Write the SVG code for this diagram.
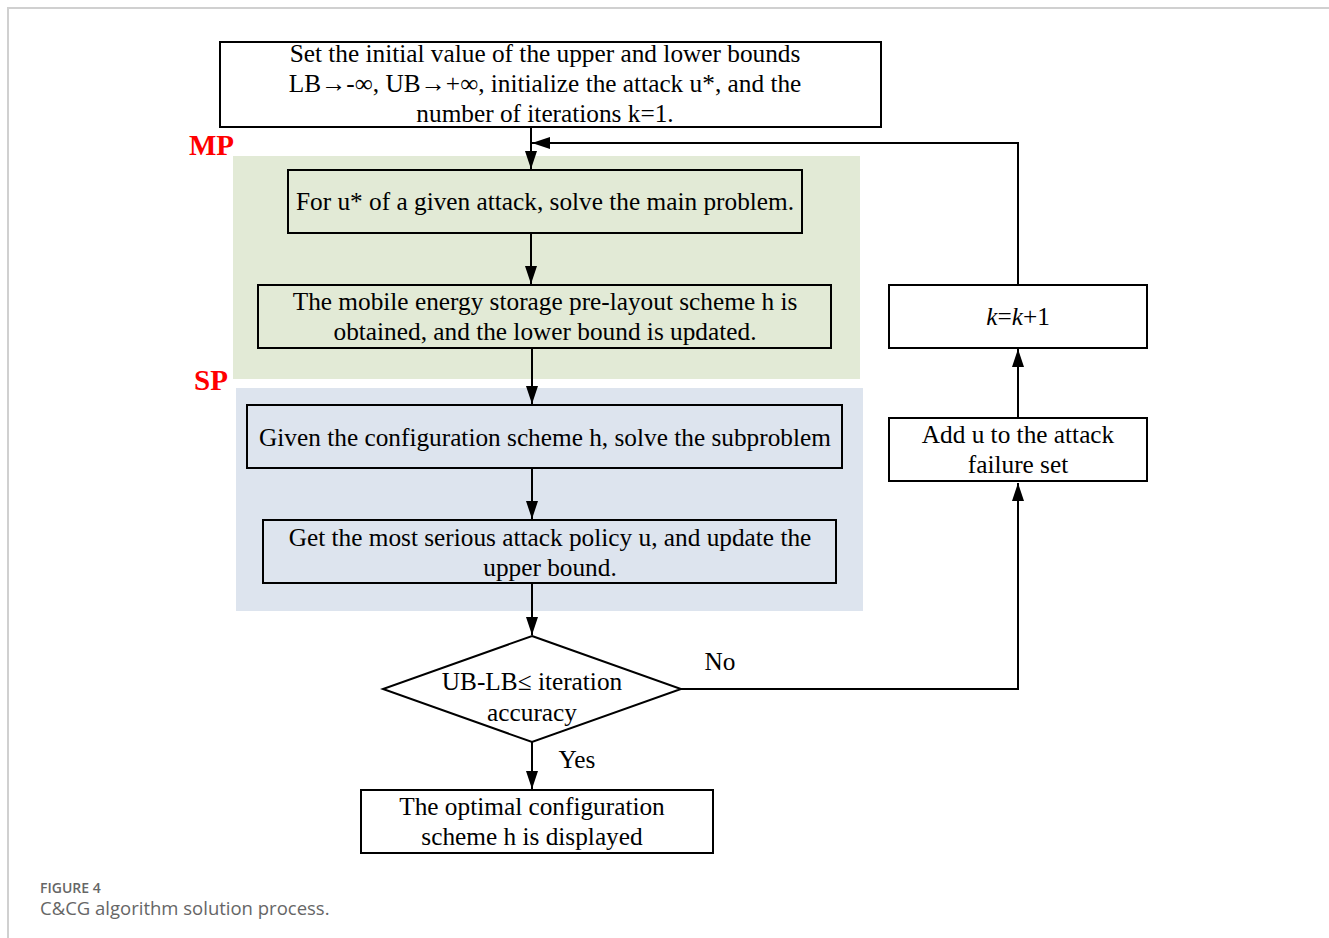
<svg xmlns="http://www.w3.org/2000/svg" width="1329" height="938" viewBox="0 0 1329 938">
<style>
.box{fill:none;stroke:#000;stroke-width:2}
.t{font-family:"Liberation Serif","Times New Roman",serif;font-size:25.3px;fill:#000;text-anchor:middle}
.lbl{font-family:"Liberation Serif","Times New Roman",serif;font-size:29px;font-weight:bold;fill:#ff0000}
.c{fill:none;stroke:#000;stroke-width:2}
.cap1{font-family:"Open Sans","Noto Sans",sans-serif;font-size:14px;font-weight:600;fill:#666}
.cap2{font-family:"Open Sans","Noto Sans",sans-serif;font-size:18.5px;fill:#666}
</style>
<defs>
<marker id="ah" viewBox="0 0 18 12" refX="18" refY="6" markerWidth="18" markerHeight="12" markerUnits="userSpaceOnUse" orient="auto">
<path d="M0,0 L18,6 L0,12 Z" fill="#000"/>
</marker>
</defs>
<rect width="1329" height="938" fill="#fff"/>
<line x1="7" y1="8" x2="1329" y2="8" stroke="#d0d0d0" stroke-width="2"/>
<line x1="8" y1="7" x2="8" y2="938" stroke="#d0d0d0" stroke-width="2"/>

<g id="regions">
<rect x="233" y="156" width="627" height="223" fill="#e2ead6"/>
<rect x="236" y="388" width="627" height="223" fill="#dde4ee"/>
<text class="lbl" x="189" y="155">MP</text>
<text class="lbl" x="194" y="390">SP</text>
</g>

<g id="connectors">
<line class="c" x1="531" y1="127" x2="531" y2="169" marker-end="url(#ah)"/>
<line class="c" x1="531" y1="233" x2="531" y2="284" marker-end="url(#ah)"/>
<line class="c" x1="532" y1="348" x2="532" y2="404" marker-end="url(#ah)"/>
<line class="c" x1="532" y1="468" x2="532" y2="519" marker-end="url(#ah)"/>
<line class="c" x1="532" y1="583" x2="532" y2="635" marker-end="url(#ah)"/>
<line class="c" x1="532" y1="742" x2="532" y2="789" marker-end="url(#ah)"/>
<polyline class="c" points="681,689 1018,689 1018,483" marker-end="url(#ah)"/>
<line class="c" x1="1018" y1="418" x2="1018" y2="349" marker-end="url(#ah)"/>
<polyline class="c" points="1018,285 1018,143 532,143" marker-end="url(#ah)"/>
<text class="t" x="720" y="670">No</text>
<text class="t" x="577" y="768">Yes</text>
</g>

<g id="init">
<rect class="box" x="220" y="42" width="661" height="85"/>
<text class="t" x="545" y="62">Set the initial value of the upper and lower bounds</text>
<text class="t" x="545" y="92">LB→-∞, UB→+∞, initialize the attack u*, and the</text>
<text class="t" x="545" y="122">number of iterations k=1.</text>
</g>

<g id="mp-solve">
<rect class="box" x="288" y="170" width="514" height="63"/>
<text class="t" x="545" y="210">For u* of a given attack, solve the main problem.</text>
</g>

<g id="mp-result">
<rect class="box" x="258" y="285" width="573" height="63"/>
<text class="t" x="545" y="310">The mobile energy storage pre-layout scheme h is</text>
<text class="t" x="545" y="340">obtained, and the lower bound is updated.</text>
</g>

<g id="sp-solve">
<rect class="box" x="247" y="405" width="595" height="63"/>
<text class="t" x="545" y="446">Given the configuration scheme h, solve the subproblem</text>
</g>

<g id="sp-result">
<rect class="box" x="263" y="520" width="573" height="63"/>
<text class="t" x="550" y="546">Get the most serious attack policy u, and update the</text>
<text class="t" x="550" y="576">upper bound.</text>
</g>

<g id="check">
<polygon class="box" points="532,636 681,689 532,742 383,689"/>
<text class="t" x="532" y="690">UB-LB≤ iteration</text>
<text class="t" x="532" y="721">accuracy</text>
</g>

<g id="output">
<rect class="box" x="361" y="790" width="352" height="63"/>
<text class="t" x="532" y="815">The optimal configuration</text>
<text class="t" x="532" y="845">scheme h is displayed</text>
</g>

<g id="add-u">
<rect class="box" x="889" y="418" width="258" height="63"/>
<text class="t" x="1018" y="443">Add u to the attack</text>
<text class="t" x="1018" y="473">failure set</text>
</g>

<g id="increment">
<rect class="box" x="889" y="285" width="258" height="63"/>
<text class="t" x="1018" y="325"><tspan font-style="italic">k</tspan>=<tspan font-style="italic">k</tspan>+1</text>
</g>

<g id="caption">
<text class="cap1" x="40" y="893">FIGURE 4</text>
<text class="cap2" x="40" y="915">C&amp;CG algorithm solution process.</text>
</g>
</svg>
